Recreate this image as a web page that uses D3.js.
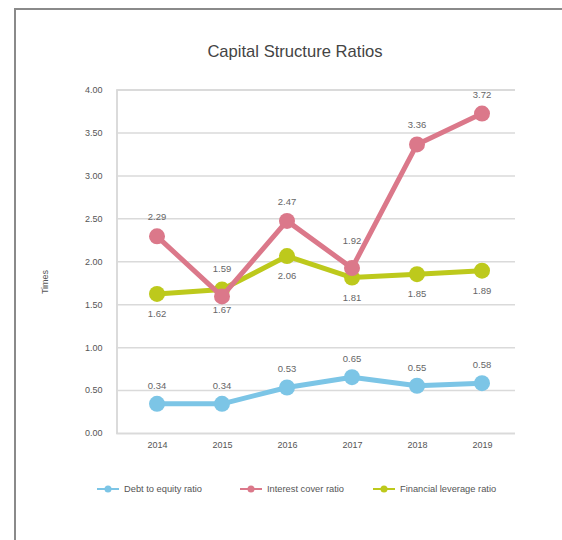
<!DOCTYPE html>
<html>
<head>
<meta charset="utf-8">
<script src="https://cdn.jsdelivr.net/npm/d3@7"></script>
<style>
  html, body { margin: 0; padding: 0; background: #fff; }
  svg { display: block; font-family: "Liberation Sans", Arial, Helvetica, sans-serif; }
</style>
</head>
<body>
<svg id="chart" width="562" height="540"></svg>
<script>
// Years on the x axis
const years = ["2014", "2015", "2016", "2017", "2018", "2019"];

// Ratio values, one array per series
const debtToEquity = [0.34, 0.34, 0.53, 0.65, 0.55, 0.58];
const interestCover = [2.29, 1.59, 2.47, 1.92, 3.36, 3.72];
const financialLeverage = [1.62, 1.67, 2.06, 1.81, 1.85, 1.89];

// Y axis ticks
const yTicks = [0, 0.5, 1, 1.5, 2, 2.5, 3, 3.5, 4];

const seriesNames = ["Debt to equity ratio", "Interest cover ratio", "Financial leverage ratio"];

const series = [
  { name: seriesNames[0], values: debtToEquity, color: "#7cc5e6", labelDy: -15 },
  { name: seriesNames[1], values: interestCover, color: "#db788a", labelDy: -16 },
  { name: seriesNames[2], values: financialLeverage, color: "#bdc91c", labelDy: 23 }
];

const svg = d3.select("#chart");

// Outer frame: top and left edges
svg.append("path")
  .attr("d", "M15,562 L15,9 L562,9")
  .attr("fill", "none")
  .attr("stroke", "#8a8a8a")
  .attr("stroke-width", 2);

// Title
svg.append("text")
  .attr("x", 295)
  .attr("y", 56.5)
  .attr("text-anchor", "middle")
  .attr("font-size", 16.6)
  .attr("fill", "#444")
  .text("Capital Structure Ratios");

const plotLeft = 116.5, plotRight = 515, plotTop = 89.5, plotBottom = 433;

const x = d3.scalePoint().domain(years).range([157, 482]);
const y = d3.scaleLinear().domain([0, 4]).range([plotBottom, plotTop]);

// Horizontal gridlines and y tick labels
const yAxis = d3.axisLeft(y)
  .tickValues(yTicks)
  .tickFormat(d3.format(".2f"))
  .tickSize(-(plotRight - plotLeft))
  .tickPadding(14);

const yg = svg.append("g")
  .attr("transform", `translate(${plotLeft},0)`)
  .call(yAxis);
yg.select(".domain").attr("stroke", "#cfcfcf").attr("stroke-width", 1.5);
yg.selectAll(".tick line").attr("stroke", "#dadada").attr("stroke-width", 1.5);
yg.selectAll(".tick text")
  .attr("font-size", 9)
  .attr("fill", "#555")
  .attr("font-family", "'Liberation Sans', Arial, sans-serif");

// X axis labels
const xAxis = d3.axisBottom(x).tickSize(0).tickPadding(9);
const xg = svg.append("g")
  .attr("transform", `translate(0,${plotBottom})`)
  .call(xAxis);
xg.select(".domain").remove();
xg.selectAll(".tick text")
  .attr("font-size", 9)
  .attr("fill", "#555")
  .attr("font-family", "'Liberation Sans', Arial, sans-serif");

// Y axis title
svg.append("text")
  .attr("transform", "translate(48,282) rotate(-90)")
  .attr("text-anchor", "middle")
  .attr("font-size", 9)
  .attr("fill", "#555")
  .text("Times");

const line = d3.line()
  .x((d, i) => x(years[i]))
  .y(d => y(d));

// Draw order: debt, financial leverage, interest cover on top
const drawOrder = [series[0], series[2], series[1]];

drawOrder.forEach(s => {
  const g = svg.append("g");
  g.append("path")
    .datum(s.values)
    .attr("d", line)
    .attr("fill", "none")
    .attr("stroke", s.color)
    .attr("stroke-width", 5)
    .attr("stroke-linejoin", "round");
  g.selectAll("circle")
    .data(s.values)
    .join("circle")
    .attr("cx", (d, i) => x(years[i]))
    .attr("cy", d => y(d))
    .attr("r", 8)
    .attr("fill", s.color);
});

// Value labels; an interest-cover label is lifted further when its point
// sits close to the financial-leverage point of the same year
series.forEach(s => {
  svg.append("g").selectAll("text")
    .data(s.values)
    .join("text")
    .attr("x", (d, i) => x(years[i]))
    .attr("y", (d, i) => {
      let dy = s.labelDy;
      if (s.values === interestCover && Math.abs(d - financialLeverage[i]) < 0.15) dy -= 8;
      return y(d) + dy;
    })
    .attr("text-anchor", "middle")
    .attr("font-size", 9.5)
    .attr("fill", "#666")
    .text(d => d.toFixed(2));
});

// Legend
const legendX = [97, 240, 373];
const legend = svg.append("g").attr("transform", "translate(0,489)");
series.forEach((s, i) => {
  const g = legend.append("g").attr("transform", `translate(${legendX[i]},0)`);
  g.append("line")
    .attr("x1", 0).attr("x2", 22)
    .attr("y1", 0).attr("y2", 0)
    .attr("stroke", s.color)
    .attr("stroke-width", 2);
  g.append("circle")
    .attr("cx", 11).attr("cy", 0).attr("r", 3.5)
    .attr("fill", s.color);
  g.append("text")
    .attr("x", 27)
    .attr("y", 3.3)
    .attr("font-size", 9.3)
    .attr("fill", "#555")
    .text(s.name);
});
</script>
</body>
</html>
